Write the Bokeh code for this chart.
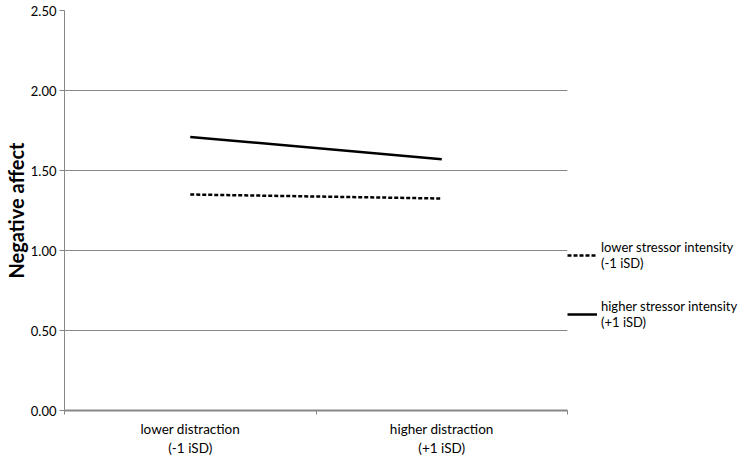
from bokeh.plotting import figure
from bokeh.models import FixedTicker, Legend, LegendItem, Range1d, NumeralTickFormatter
from bokeh.embed import file_html
from bokeh.resources import INLINE

categories = ["lower distraction\n(-1 iSD)", "higher distraction\n(+1 iSD)"]
series_names = ["lower stressor intensity\n(-1 iSD)", "higher stressor intensity\n(+1 iSD)"]
lower_stressor = [1.35, 1.325]
higher_stressor = [1.71, 1.57]
y_ticks = [0.0, 0.5, 1.0, 1.5, 2.0, 2.5]

xs = [i + 0.5 for i in range(len(categories))]
FONT = "Lato"
GRAY = "#878787"

p = figure(frame_width=503, frame_height=400, output_backend="svg", toolbar_location=None,
           x_range=Range1d(0, len(categories)), y_range=Range1d(0, 2.5),
           min_border_left=50, min_border_right=0, min_border_top=10, min_border_bottom=40)
p.outline_line_color = None
p.background_fill_color = "white"

r1 = p.line(xs, lower_stressor, line_color="black", line_width=2.5, line_dash="4 2")
r2 = p.line(xs, higher_stressor, line_color="black", line_width=2.5)

p.yaxis.ticker = FixedTicker(ticks=y_ticks, minor_ticks=[])
p.yaxis.formatter = NumeralTickFormatter(format="0.00")
p.yaxis.axis_label = "Negative affect"
p.yaxis.axis_label_text_font = FONT
p.yaxis.axis_label_text_font_style = "bold"
p.yaxis.axis_label_text_font_size = "20px"
p.yaxis.axis_label_text_color = "black"
p.yaxis.axis_label_standoff = 0
p.yaxis.major_label_text_font = FONT
p.yaxis.major_label_text_font_size = "13px"
p.yaxis.major_label_text_color = "black"
p.yaxis.major_label_standoff = 3
p.yaxis.major_tick_out = 5
p.yaxis.major_tick_in = 0
p.yaxis.axis_line_color = GRAY
p.yaxis.major_tick_line_color = GRAY

p.xaxis.ticker = FixedTicker(ticks=xs, minor_ticks=list(range(len(categories) + 1)))
p.xaxis.major_label_overrides = {x: c for x, c in zip(xs, categories)}
p.xaxis.major_label_text_font = FONT
p.xaxis.major_label_text_font_size = "13.5px"
p.xaxis.major_label_text_color = "black"
p.xaxis.major_label_standoff = 6
p.xaxis.major_tick_out = 0
p.xaxis.major_tick_in = 0
p.xaxis.minor_tick_out = 4
p.xaxis.minor_tick_in = 0
p.xaxis.axis_line_color = GRAY
p.xaxis.axis_line_width = 2
p.xaxis.minor_tick_line_color = GRAY

p.xgrid.grid_line_color = None
p.ygrid.grid_line_color = GRAY
p.ygrid.grid_line_width = 1

legend = Legend(items=[LegendItem(label=series_names[0], renderers=[r1]),
                       LegendItem(label=series_names[1], renderers=[r2])],
                location=(0, 80), margin=0, padding=0, spacing=27,
                glyph_width=30, label_standoff=4,
                label_text_font=FONT, label_text_font_size="13px", label_text_color="black",
                label_text_line_height=1.5,
                border_line_color=None, background_fill_alpha=0)
p.add_layout(legend, "right")

open("out.html", "w").write(file_html(p, INLINE))
